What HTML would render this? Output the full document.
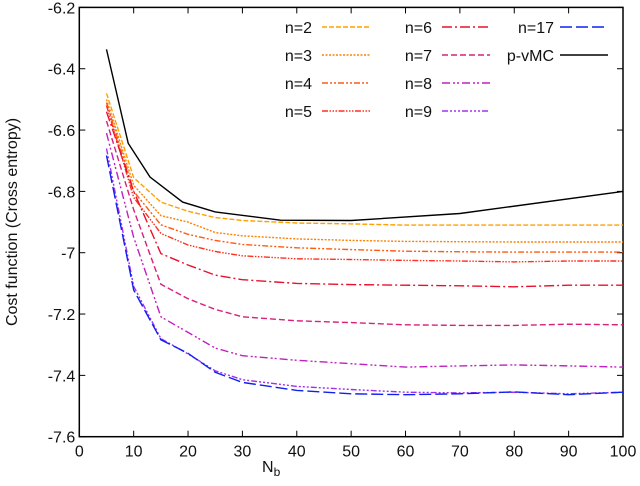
<!DOCTYPE html>
<html><head><meta charset="utf-8"><style>
body{margin:0;background:#fff;width:640px;height:481px;overflow:hidden}
svg text{font-family:"Liberation Sans",sans-serif;fill:#111}
</style></head><body>
<svg id="chart" width="640" height="481" xmlns="http://www.w3.org/2000/svg"></svg>
<script>
const xTicks=[0,10,20,30,40,50,60,70,80,90,100];
const yTicks=[-6.2,-6.4,-6.6,-6.8,-7,-7.2,-7.4,-7.6];
const nbX=[5,10,15,20,25,30,40,50,60,70,80,90,100];
const n2=[-6.48,-6.755,-6.835,-6.865,-6.885,-6.895,-6.903,-6.906,-6.91,-6.91,-6.91,-6.91,-6.91];
const n3=[-6.50,-6.78,-6.879,-6.90,-6.934,-6.945,-6.955,-6.96,-6.963,-6.964,-6.965,-6.965,-6.965];
const n4=[-6.51,-6.80,-6.909,-6.94,-6.96,-6.973,-6.984,-6.99,-6.995,-6.997,-6.998,-6.998,-6.998];
const n5=[-6.52,-6.82,-6.937,-6.975,-6.996,-7.01,-7.02,-7.022,-7.025,-7.027,-7.03,-7.027,-7.027];
const n6=[-6.54,-6.80,-7.003,-7.04,-7.073,-7.088,-7.10,-7.104,-7.106,-7.108,-7.111,-7.106,-7.106];
const n7=[-6.57,-6.86,-7.103,-7.15,-7.185,-7.209,-7.222,-7.228,-7.235,-7.237,-7.237,-7.233,-7.235];
const n8=[-6.61,-6.95,-7.209,-7.26,-7.311,-7.336,-7.351,-7.362,-7.373,-7.369,-7.366,-7.369,-7.373];
const n9=[-6.66,-7.11,-7.28,-7.33,-7.385,-7.414,-7.436,-7.446,-7.455,-7.457,-7.455,-7.46,-7.455];
const n17=[-6.683,-7.122,-7.284,-7.328,-7.39,-7.423,-7.449,-7.46,-7.463,-7.46,-7.454,-7.463,-7.455];
const pvmcX=[5,9,13,19,25,37,50,70,100];
const pvmcY=[-6.337,-6.643,-6.753,-6.835,-6.867,-6.894,-6.895,-6.872,-6.80];
const L=79.3,R=623,T=7.4,B=436.7;
const sx=v=>L+(v-0)/(100-0)*(R-L);
const sy=v=>T+(-6.2-v)/(1.4)*(B-T);
const svg=document.getElementById('chart');
const NS='http://www.w3.org/2000/svg';
function mk(tag,attrs){const e=document.createElementNS(NS,tag);for(const k in attrs)e.setAttribute(k,attrs[k]);svg.appendChild(e);return e;}
const series=[
 {name:'n=2',x:nbX,y:n2,c:'#ffa000',d:'5,2',col:0,row:0},
 {name:'n=3',x:nbX,y:n3,c:'#ff8000',d:'2,1.5',col:0,row:1},
 {name:'n=4',x:nbX,y:n4,c:'#ff5a10',d:'6,2,2,2,2,2',col:0,row:2},
 {name:'n=5',x:nbX,y:n5,c:'#ff3020',d:'6,1.5,1.5,1.5,1.5,1.5,1.5,1.5',col:0,row:3},
 {name:'n=6',x:nbX,y:n6,c:'#e8102c',d:'10,3,2,3',col:1,row:0},
 {name:'n=7',x:nbX,y:n7,c:'#d8207a',d:'6,3',col:1,row:1},
 {name:'n=8',x:nbX,y:n8,c:'#c020c0',d:'8,3,2,2,2,3',col:1,row:2},
 {name:'n=9',x:nbX,y:n9,c:'#a030f0',d:'6,2,2,2,2,2,2,2',col:1,row:3},
 {name:'n=17',x:nbX,y:n17,c:'#1020f0',d:'12,4',col:2,row:0},
 {name:'p-vMC',x:pvmcX,y:pvmcY,c:'#000',d:'',col:2,row:1}
];
// frame
const fr=mk('rect',{x:L,y:T,width:R-L,height:B-T,fill:'none',stroke:'#000','stroke-width':1.5});


xTicks.forEach(v=>{
 const t=mk('line',{x1:sx(v),x2:sx(v),y1:B,y2:B-6,stroke:'#000','stroke-width':1});
 
 
 const t2=mk('line',{x1:sx(v),x2:sx(v),y1:T,y2:T+6,stroke:'#000','stroke-width':1});
 
 
 const lb=mk('text',{x:sx(v),y:B+20,'text-anchor':'middle','font-size':16});
 lb.textContent=v;
 
 
});
yTicks.forEach(v=>{
 const t=mk('line',{x1:L,x2:L+6,y1:sy(v),y2:sy(v),stroke:'#000','stroke-width':1});
 
 
 const t2=mk('line',{x1:R,x2:R-6,y1:sy(v),y2:sy(v),stroke:'#000','stroke-width':1});
 
 
 const lb=mk('text',{x:L-4,y:sy(v)+6,'text-anchor':'end','font-size':16});
 lb.textContent=v;
 
 
});
const yt=mk('text',{x:0,y:0,'text-anchor':'middle','font-size':16,transform:'translate(17,222) rotate(-90)'});
yt.textContent='Cost function (Cross entropy)';


const xt=mk('text',{x:262,y:472,'font-size':16});
xt.innerHTML='N<tspan font-size="12" dy="4">b</tspan>';


const colEnd=[312,432,554],colLine=[322,442,560],rowY=[27,55,83,111];
series.forEach(s=>{
 const pts=s.x.map((x,i)=>sx(x).toFixed(1)+','+sy(s.y[i]).toFixed(1)).join(' ');
 const p=mk('polyline',{points:pts,fill:'none',stroke:s.c,'stroke-width':1.4,'stroke-dasharray':s.d});
 
 
 const lt=mk('text',{x:colEnd[s.col],y:rowY[s.row]+6,'text-anchor':'end','font-size':16});
 lt.textContent=s.name;
 
 
 const ll=mk('line',{x1:colLine[s.col],x2:colLine[s.col]+48,y1:rowY[s.row],y2:rowY[s.row],stroke:s.c,'stroke-width':1.4,'stroke-dasharray':s.d});
 
 
});
</script>
</body></html>
